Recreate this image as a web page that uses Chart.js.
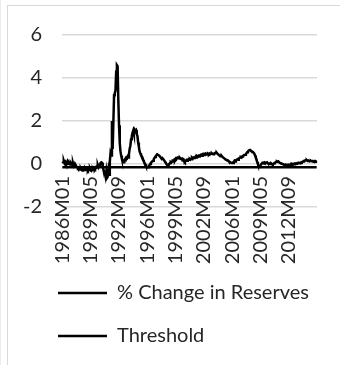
<!DOCTYPE html>
<html>
<head>
<meta charset="utf-8">
<script src="https://cdn.jsdelivr.net/npm/chart.js@4/dist/chart.umd.min.js"></script>
<style>
  html, body { margin: 0; padding: 0; background: #fff; }
  #wrap { position: relative; width: 340px; height: 365px; overflow: hidden; background: #fff; }
  #frame { position: absolute; left: 7px; top: 5px; width: 400px; height: 400px;
           border-left: 1px solid #d9d9d9; border-top: 1px solid #d9d9d9; }
  #edge { position: absolute; left: 0; top: 0; width: 1px; height: 365px; background: #ececec; }
  canvas { position: absolute; left: 0; top: 0; }
</style>
</head>
<body>
<div id="wrap">
  <div id="edge"></div>
  <div id="frame"></div>
  <canvas id="chart" width="340" height="365"></canvas>
</div>
<script>
// Monthly series, first observation 1986M01
const START_YEAR = 1986;
const LABEL_EVERY = 40;

// % change in reserves, one row per year (Jan..Dec)
const reserveChange = [
  0.12, 0.08, 0.15, 0.05, 0.10, 0.02, 0.06, 0.12, 0.00, 0.08, 0.03, -0.02,       // 1986
  0.05, 0.00, -0.05, 0.04, -0.08, -0.02, -0.10, -0.06, -0.12, -0.15, -0.20, -0.18, // 1987
  -0.22, -0.25, -0.20, -0.26, -0.30, -0.22, -0.25, -0.18, -0.28, -0.25, -0.20, -0.26, // 1988
  -0.30, -0.24, -0.28, -0.22, -0.30, -0.32, -0.26, -0.20, -0.25, -0.18, -0.22, -0.15, // 1989
  -0.17, -0.10, -0.05, -0.15, -0.08, -0.02, 0.05, 0.08, 0.06, -0.10, -0.25, -0.40,    // 1990
  -0.45, -0.60, -0.35, -0.65, -0.60, -0.30, -0.50, 0.10, 0.50, 0.40, 2.00, 0.70,      // 1991
  1.90, 3.20, 3.30, 3.40, 4.30, 4.60, 4.55, 3.00, 1.80, 1.00, 0.60, 0.40,             // 1992
  0.25, 0.15, 0.08, 0.12, 0.20, 0.25, 0.30, 0.28, 0.35, 0.30, 0.45, 0.70,             // 1993
  0.85, 1.15, 1.30, 1.45, 1.55, 1.40, 1.60, 1.55, 1.58, 1.40, 1.30, 1.00,             // 1994
  0.80, 0.60, 0.50, 0.42, 0.37, 0.30, 0.20, 0.12, 0.05, 0.00, -0.08, -0.12,           // 1995
  -0.15, -0.15, -0.12, -0.05, 0.00, 0.05, 0.10, 0.12, 0.15, 0.22, 0.28, 0.32,         // 1996
  0.38, 0.42, 0.46, 0.45, 0.40, 0.38, 0.34, 0.30, 0.25, 0.28, 0.24, 0.20,             // 1997
  0.15, 0.10, 0.05, 0.00, -0.05, -0.08, -0.06, 0.00, 0.05, 0.10, 0.08, 0.12,          // 1998
  0.15, 0.14, 0.20, 0.18, 0.25, 0.22, 0.28, 0.30, 0.30, 0.26, 0.28, 0.24,             // 1999
  0.22, 0.25, 0.20, 0.22, 0.15, 0.10, 0.14, 0.18, 0.15, 0.20, 0.22, 0.20,             // 2000
  0.23, 0.20, 0.25, 0.28, 0.24, 0.30, 0.28, 0.30, 0.34, 0.30, 0.36, 0.33,             // 2001
  0.38, 0.35, 0.40, 0.42, 0.38, 0.44, 0.46, 0.42, 0.47, 0.45, 0.48, 0.44,             // 2002
  0.46, 0.50, 0.47, 0.45, 0.49, 0.46, 0.48, 0.50, 0.47, 0.45, 0.48, 0.50,             // 2003
  0.52, 0.50, 0.52, 0.48, 0.45, 0.42, 0.40, 0.38, 0.36, 0.37, 0.33, 0.30,             // 2004
  0.28, 0.25, 0.22, 0.20, 0.19, 0.18, 0.16, 0.12, 0.10, 0.08, 0.07, 0.05,             // 2005
  0.06, 0.05, 0.10, 0.15, 0.12, 0.18, 0.20, 0.22, 0.20, 0.25, 0.28, 0.30,             // 2006
  0.32, 0.30, 0.35, 0.38, 0.40, 0.42, 0.43, 0.45, 0.50, 0.55, 0.58, 0.62,             // 2007
  0.64, 0.65, 0.62, 0.60, 0.58, 0.55, 0.53, 0.48, 0.40, 0.30, 0.22, 0.10,             // 2008
  0.00, -0.10, -0.14, -0.12, -0.05, 0.00, 0.04, 0.06, 0.06, 0.08, 0.05, 0.07,         // 2009
  0.06, 0.08, 0.04, 0.02, 0.00, 0.03, 0.05, 0.02, 0.00, -0.02, 0.00, 0.03,            // 2010
  0.05, 0.08, 0.10, 0.12, 0.10, 0.12, 0.08, 0.06, 0.04, 0.02, 0.01, 0.00,             // 2011
  -0.02, -0.04, -0.05, -0.03, -0.06, -0.04, -0.05, -0.03, -0.05, -0.04, -0.02, -0.03, // 2012
  0.00, -0.02, 0.01, 0.00, 0.02, 0.00, 0.03, 0.02, 0.04, 0.03, 0.05, 0.04,            // 2013
  0.06, 0.08, 0.07, 0.10, 0.12, 0.14, 0.15, 0.17, 0.16, 0.18, 0.15, 0.17,             // 2014
  0.15, 0.16, 0.14, 0.15, 0.13, 0.14, 0.14, 0.12, 0.13, 0.11, 0.12, 0.10              // 2015
];

// Constant threshold level
const THRESHOLD = -0.15;

// Value axis
const Y_MIN = -2;
const Y_MAX = 6;
const Y_STEP = 2;

// Category labels: 1986M01, 1986M02, ...
const months = reserveChange.map((_, i) => {
  const y = START_YEAR + Math.floor(i / 12);
  const m = (i % 12) + 1;
  return y + 'M' + (m < 10 ? '0' + m : m);
});
const thresholdLine = months.map(() => THRESHOLD);

const FONT = 'Lato, "Open Sans", sans-serif';
const TEXT = '#262626';

// Legend sits below the rotated month labels, indented under the plot
const LEGEND_LEFT = 35;
const LEGEND_TOP = 260;
const legendPlacement = {
  id: 'legendPlacement',
  afterLayout(chart) {
    const lg = chart.legend;
    if (!lg) return;
    const w = lg.width, h = lg.height;
    lg.left = LEGEND_LEFT; lg.right = LEGEND_LEFT + w;
    lg.top = LEGEND_TOP; lg.bottom = LEGEND_TOP + h;
  }
};

new Chart(document.getElementById('chart'), {
  type: 'line',
  data: {
    labels: months,
    datasets: [
      {
        label: '% Change in Reserves',
        data: reserveChange,
        borderColor: '#000',
        backgroundColor: '#000',
        borderWidth: 2.5,
        pointRadius: 0,
        tension: 0
      },
      {
        label: 'Threshold',
        data: thresholdLine,
        borderColor: '#000',
        backgroundColor: '#000',
        borderWidth: 2.5,
        pointRadius: 0,
        tension: 0
      }
    ]
  },
  plugins: [legendPlacement],
  options: {
    responsive: false,
    animation: false,
    layout: { padding: { left: 0, right: 23, top: 35, bottom: 62 } },
    plugins: {
      tooltip: { enabled: false },
      legend: {
        position: 'bottom',
        align: 'start',
        labels: {
          boxWidth: 49,
          boxHeight: 0,
          padding: 23,
          color: TEXT,
          font: { family: FONT, size: 20 }
        }
      }
    },
    scales: {
      x: {
        type: 'category',
        offset: true,
        position: { y: 0 },
        grid: { display: false, drawTicks: false },
        border: { display: false },
        ticks: {
          autoSkip: false,
          minRotation: 90,
          maxRotation: 90,
          padding: 12,
          color: TEXT,
          font: { family: FONT, size: 20 },
          callback: (v, i) => (i % LABEL_EVERY === 0 ? months[i] : null)
        }
      },
      y: {
        min: Y_MIN,
        max: Y_MAX,
        afterFit: s => { s.width = 62; },
        grid: { color: '#d9d9d9', lineWidth: 1.5, drawTicks: false },
        border: { display: false },
        ticks: {
          stepSize: Y_STEP,
          padding: 20,
          color: TEXT,
          font: { family: FONT, size: 20 }
        }
      }
    }
  }
});
</script>
</body>
</html>
